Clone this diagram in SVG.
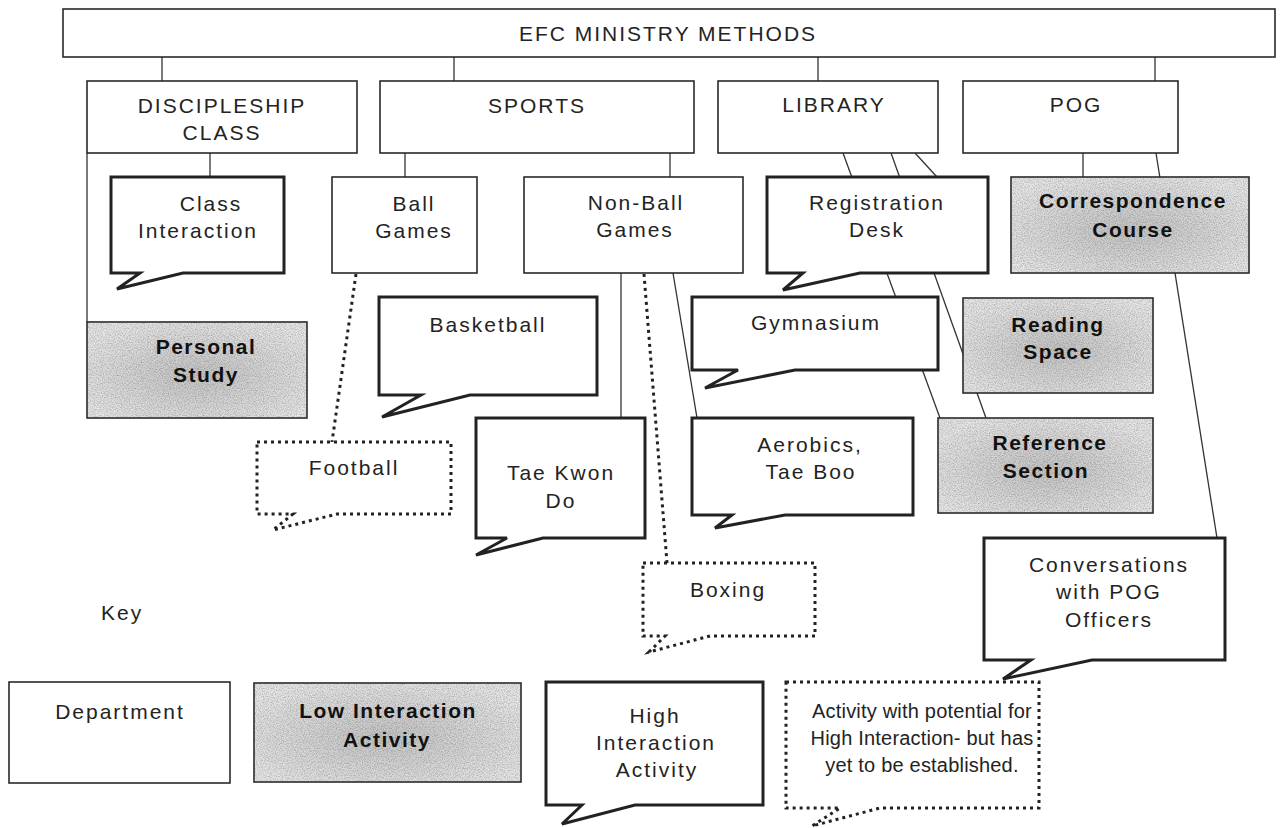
<svg xmlns="http://www.w3.org/2000/svg" width="1281" height="828" viewBox="0 0 1281 828">
<defs>
<style>
.t{font-family:"Liberation Sans",Arial,sans-serif;font-size:21px;letter-spacing:2px;fill:#232323;text-anchor:middle}
.b{font-weight:bold;letter-spacing:1.5px;fill:#111}
.s{font-size:20px;letter-spacing:0.2px}
.dept{fill:#fff;stroke:#2a2a2a;stroke-width:1.6}
.call{fill:#fff;stroke:#222;stroke-width:3;stroke-linejoin:miter}
.dot{fill:#fff;stroke:#222;stroke-width:3;stroke-dasharray:3 4}
.shade{fill:url(#sg);stroke:#2a2a2a;stroke-width:1.6}
.grain{fill:#000;opacity:0.3}
.con{stroke:#333;stroke-width:1.3;fill:none}
.dcon{stroke:#222;stroke-width:3;stroke-dasharray:3 4;fill:none}
</style>
<radialGradient id="sg" cx="0.5" cy="0.55" r="0.6">
<stop offset="0" stop-color="#c4c4c4"/>
<stop offset="1" stop-color="#e6e6e6"/>
</radialGradient>
<filter id="noise" x="0" y="0" width="1" height="1" color-interpolation-filters="sRGB">
<feTurbulence type="fractalNoise" baseFrequency="0.85" numOctaves="2" seed="7"/>
<feColorMatrix type="matrix" values="0 0 0 0 0  0 0 0 0 0  0 0 0 0 0  -1.6 0 0 0 1.0"/>
<feComposite in2="SourceGraphic" operator="in"/>
</filter>
</defs>
<rect width="1281" height="828" fill="#fff"/>

<g id="connectors">
<line class="con" x1="162" y1="57" x2="162" y2="81"/>
<line class="con" x1="454" y1="57" x2="454" y2="81"/>
<line class="con" x1="818" y1="57" x2="818" y2="81"/>
<line class="con" x1="1155" y1="57" x2="1155" y2="81"/>
<line class="con" x1="210" y1="153" x2="210" y2="177"/>
<line class="con" x1="87" y1="153" x2="87" y2="322"/>
<line class="con" x1="405" y1="153" x2="405" y2="177"/>
<line class="con" x1="670" y1="153" x2="670" y2="177"/>
<line class="dcon" x1="356" y1="274" x2="332" y2="442"/>
<line class="con" x1="621" y1="273" x2="621" y2="418"/>
<line class="dcon" x1="644" y1="274" x2="667" y2="563"/>
<line class="con" x1="673" y1="273" x2="697" y2="418"/>
<line class="con" x1="843" y1="153" x2="940" y2="418"/>
<line class="con" x1="891" y1="153" x2="986" y2="418"/>
<line class="con" x1="915" y1="153" x2="937" y2="177"/>
<line class="con" x1="1083" y1="153" x2="1083" y2="177"/>
<line class="con" x1="1156" y1="153" x2="1217" y2="538"/>
</g>

<g id="title">
<rect class="dept" x="63" y="9" width="1212" height="48"/>
<text class="t" x="668" y="41">EFC MINISTRY METHODS</text>
</g>

<g id="discipleship">
<rect class="dept" x="87" y="81" width="270" height="72"/>
<text class="t" x="222" y="113">DISCIPLESHIP</text>
<text class="t" x="222" y="140">CLASS</text>
</g>
<g id="sports">
<rect class="dept" x="380" y="81" width="314" height="72"/>
<text class="t" x="537" y="113">SPORTS</text>
</g>
<g id="library">
<rect class="dept" x="718" y="81" width="220" height="72"/>
<text class="t" x="834" y="112">LIBRARY</text>
</g>
<g id="pog">
<rect class="dept" x="963" y="81" width="215" height="72"/>
<text class="t" x="1076" y="112">POG</text>
</g>

<g id="class-interaction">
<path class="call" d="M111,177 H284 V273 H183 L117,289 L140,273 H111 Z"/>
<text class="t" x="211" y="211">Class</text>
<text class="t" x="198" y="238">Interaction</text>
</g>
<g id="ball-games">
<rect class="dept" x="332" y="177" width="145" height="96"/>
<text class="t" x="414" y="211">Ball</text>
<text class="t" x="414" y="238">Games</text>
</g>
<g id="non-ball-games">
<rect class="dept" x="524" y="177" width="219" height="96"/>
<text class="t" x="636" y="210">Non-Ball</text>
<text class="t" x="635" y="237">Games</text>
</g>
<g id="registration-desk">
<path class="call" d="M767,177 H988 V273 H860 L783,290 L803,273 H767 Z"/>
<text class="t" x="877" y="210">Registration</text>
<text class="t" x="877" y="237">Desk</text>
</g>
<g id="correspondence-course">
<rect class="shade" x="1011" y="177" width="238" height="96"/>
<rect class="grain" x="1012" y="178" width="236" height="94" filter="url(#noise)"/>
<text class="t b" x="1133" y="208">Correspondence</text>
<text class="t b" x="1133" y="237">Course</text>
</g>

<g id="personal-study">
<rect class="shade" x="87" y="322" width="220" height="96"/>
<rect class="grain" x="88" y="323" width="218" height="94" filter="url(#noise)"/>
<text class="t b" x="206" y="354">Personal</text>
<text class="t b" x="206" y="382">Study</text>
</g>
<g id="basketball">
<path class="call" d="M379,297 H597 V395 H470 L382,417 L421,395 H379 Z"/>
<text class="t" x="488" y="332">Basketball</text>
</g>
<g id="gymnasium">
<path class="call" d="M692,297 H938 V370 H795 L705,388 L738,370 H692 Z"/>
<text class="t" x="816" y="330">Gymnasium</text>
</g>
<g id="reading-space">
<rect class="shade" x="963" y="298" width="190" height="95"/>
<rect class="grain" x="964" y="299" width="188" height="93" filter="url(#noise)"/>
<text class="t b" x="1058" y="332">Reading</text>
<text class="t b" x="1058" y="359">Space</text>
</g>

<g id="football">
<path class="dot" d="M257,442 H451 V514 H337 L273,530 L293,514 H257 Z"/>
<text class="t" x="354" y="475">Football</text>
</g>
<g id="tae-kwon-do">
<path class="call" d="M476,418 H645 V538 H543 L476,555 L507,538 H476 Z"/>
<text class="t" x="561" y="480">Tae Kwon</text>
<text class="t" x="561" y="508">Do</text>
</g>
<g id="aerobics">
<path class="call" d="M692,418 H913 V515 H785 L715,528 L732,515 H692 Z"/>
<text class="t" x="810" y="452">Aerobics,</text>
<text class="t" x="811" y="479">Tae Boo</text>
</g>
<g id="reference-section">
<rect class="shade" x="938" y="418" width="215" height="95"/>
<rect class="grain" x="939" y="419" width="213" height="93" filter="url(#noise)"/>
<text class="t b" x="1050" y="450">Reference</text>
<text class="t b" x="1046" y="478">Section</text>
</g>
<g id="boxing">
<path class="dot" d="M643,563 H815 V636 H710 L649,652 L665,636 H643 Z"/>
<text class="t" x="728" y="597">Boxing</text>
</g>
<g id="conversations">
<path class="call" d="M984,538 H1225 V660 H1092 L1003,679 L1031,660 H984 Z"/>
<text class="t" x="1109" y="572">Conversations</text>
<text class="t" x="1109" y="599">with POG</text>
<text class="t" x="1109" y="627">Officers</text>
</g>

<g id="key">
<text class="t" x="101" y="620" style="text-anchor:start">Key</text>
</g>
<g id="key-department">
<rect class="dept" x="9" y="682" width="221" height="101"/>
<text class="t" x="120" y="719">Department</text>
</g>
<g id="key-low">
<rect class="shade" x="254" y="683" width="267" height="99"/>
<rect class="grain" x="255" y="684" width="265" height="97" filter="url(#noise)"/>
<text class="t b" x="388" y="718">Low Interaction</text>
<text class="t b" x="387" y="747">Activity</text>
</g>
<g id="key-high">
<path class="call" d="M546,682 H763 V805 H635 L562,824 L582,805 H546 Z"/>
<text class="t" x="655" y="723">High</text>
<text class="t" x="656" y="750">Interaction</text>
<text class="t" x="657" y="777">Activity</text>
</g>
<g id="key-potential">
<path class="dot" d="M786,682 H1039 V808 H880 L812,826 L840,808 H786 Z"/>
<text class="t s" x="922" y="718">Activity with potential for</text>
<text class="t s" x="922" y="745">High Interaction- but has</text>
<text class="t s" x="922" y="772">yet to be established.</text>
</g>
</svg>
